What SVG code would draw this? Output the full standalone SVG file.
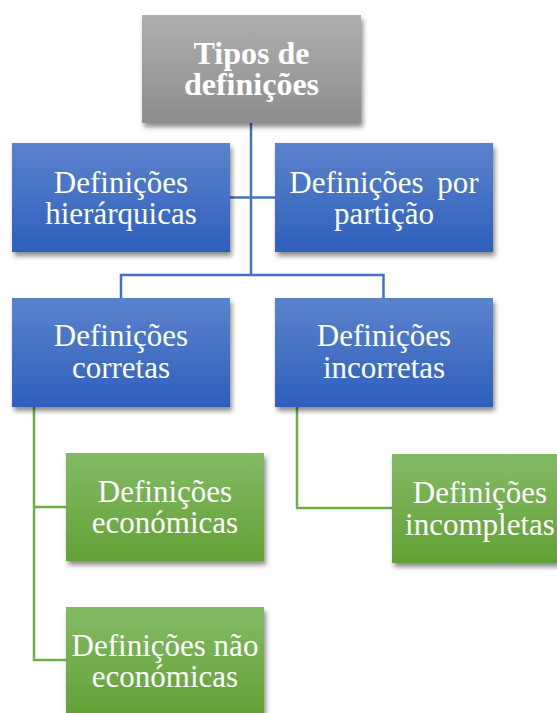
<svg xmlns="http://www.w3.org/2000/svg" width="557" height="713" viewBox="0 0 557 713">
  <defs>
    <linearGradient id="gGrey" x1="0" y1="0" x2="0" y2="1">
      <stop offset="0" stop-color="#afafaf"/>
      <stop offset="1" stop-color="#8d8d8d"/>
    </linearGradient>
    <linearGradient id="gBlue" x1="0" y1="0" x2="0" y2="1">
      <stop offset="0" stop-color="#5c82cc"/>
      <stop offset="1" stop-color="#2e5fbc"/>
    </linearGradient>
    <linearGradient id="gGreen" x1="0" y1="0" x2="0" y2="1">
      <stop offset="0" stop-color="#84ba66"/>
      <stop offset="1" stop-color="#63a136"/>
    </linearGradient>
    <filter id="shadow" x="-10%" y="-10%" width="125%" height="130%">
      <feDropShadow dx="2" dy="4" stdDeviation="2.5" flood-color="#000" flood-opacity="0.45"/>
    </filter>
  </defs>
  <style>
    .box { filter: url(#shadow); }
    .grey { fill: url(#gGrey); }
    .blue { fill: url(#gBlue); }
    .green { fill: url(#gGreen); }
    .lbl { font-family: "Liberation Serif", "Times New Roman", serif; font-size: 31px; fill: #ffffff; text-anchor: middle; }
    .title { font-family: "Liberation Serif", "Times New Roman", serif; font-size: 32px; font-weight: bold; fill: #ffffff; text-anchor: middle; }
    .cb { fill: none; stroke: #4472c4; stroke-width: 2.5; }
    .cg { fill: none; stroke: #70ad47; stroke-width: 2.5; }
  </style>

  <!-- connectors -->
  <g id="connectors">
    <path class="cb" d="M251 123 V275"/>
    <path class="cb" d="M230 197.5 H275"/>
    <path class="cb" d="M121 298 V275 H383.5 V298"/>
    <path class="cg" d="M34 407 V660 H66"/>
    <path class="cg" d="M34 507 H66"/>
    <path class="cg" d="M297 407 V508 H392"/>
  </g>

  <g id="node-tipos">
    <rect class="box grey" x="142" y="15" width="219" height="108"/>
    <text class="title" x="251.5" y="64">Tipos de</text>
    <text class="title" x="251.5" y="95">definições</text>
  </g>

  <g id="node-hierarquicas">
    <rect class="box blue" x="12" y="143" width="218" height="109"/>
    <text class="lbl" x="121" y="193">Definições</text>
    <text class="lbl" x="121" y="224">hierárquicas</text>
  </g>

  <g id="node-particao">
    <rect class="box blue" x="275" y="143" width="218" height="109"/>
    <text class="lbl" x="384" y="193" word-spacing="6">Definições por</text>
    <text class="lbl" x="384" y="224">partição</text>
  </g>

  <g id="node-corretas">
    <rect class="box blue" x="12" y="298" width="218" height="109"/>
    <text class="lbl" x="121" y="346">Definições</text>
    <text class="lbl" x="121" y="378">corretas</text>
  </g>

  <g id="node-incorretas">
    <rect class="box blue" x="275" y="298" width="218" height="109"/>
    <text class="lbl" x="384" y="346">Definições</text>
    <text class="lbl" x="384" y="378">incorretas</text>
  </g>

  <g id="node-economicas">
    <rect class="box green" x="66" y="453" width="198" height="108"/>
    <text class="lbl" x="165" y="502">Definições</text>
    <text class="lbl" x="165" y="533">económicas</text>
  </g>

  <g id="node-nao-economicas">
    <rect class="box green" x="66" y="607" width="198" height="108"/>
    <text class="lbl" x="165" y="656">Definições não</text>
    <text class="lbl" x="165" y="687">económicas</text>
  </g>

  <g id="node-incompletas">
    <rect class="box green" x="392" y="454" width="198" height="109"/>
    <text class="lbl" x="480" y="503">Definições</text>
    <text class="lbl" x="480" y="535">incompletas</text>
  </g>
</svg>
